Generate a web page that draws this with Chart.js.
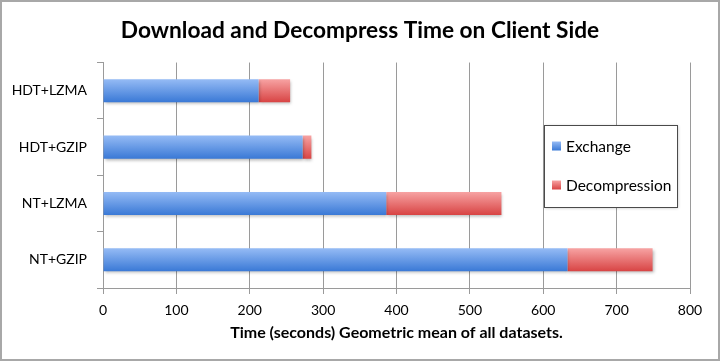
<!DOCTYPE html>
<html>
<head>
<meta charset="utf-8">
<script src="https://cdn.jsdelivr.net/npm/chart.js@4/dist/chart.umd.min.js"></script>
<style>
html,body{margin:0;padding:0;background:#fff;}
#wrap{width:720px;height:361px;position:relative;}
</style>
</head>
<body>
<div id="wrap"><canvas id="c" width="720" height="361"></canvas></div>
<script>
const categories = ['HDT+LZMA', 'HDT+GZIP', 'NT+LZMA', 'NT+GZIP'];
const exchange = [212, 272, 386, 633];
const decompression = [43, 12, 157, 116];
const xTicks = [0, 100, 200, 300, 400, 500, 600, 700, 800];
const seriesNames = ['Exchange', 'Decompression'];
const titleText = 'Download and Decompress Time on Client Side';
const xTitleText = 'Time (seconds) Geometric mean of all datasets.';

const FONT = 'Lato, "Open Sans", sans-serif';
const gradStops = [['#95bbf5', '#3a79d6'], ['#f7a3a3', '#d84444']];
const solid = ['#5b93e6', '#e36262'];

const gradientPlugin = {
  id: 'grad',
  afterLayout(chart) {
    if (chart.titleBlock) {
      chart.titleBlock.left = 0;
      chart.titleBlock.right = chart.width;
      chart.titleBlock.width = chart.width;
    }
    const ys = chart.scales.y;
    const ctx = chart.ctx;
    const half = 11.5;
    chart.data.datasets.forEach((ds, di) => {
      ds.backgroundColor = categories.map((c, i) => {
        const yc = ys.getPixelForValue(i);
        const g = ctx.createLinearGradient(0, yc - half, 0, yc + half);
        g.addColorStop(0, gradStops[di][0]);
        g.addColorStop(1, gradStops[di][1]);
        return g;
      });
    });
  },
  beforeDatasetsDraw(chart) {
    const ctx = chart.ctx;
    ctx.save();
    ctx.shadowColor = 'rgba(0,0,0,0.28)';
    ctx.shadowBlur = 3;
    ctx.shadowOffsetX = 1;
    ctx.shadowOffsetY = 2;
  },
  afterDatasetsDraw(chart) {
    chart.ctx.restore();
  }
};

const framePlugin = {
  id: 'frame',
  beforeDraw(chart) {
    const ctx = chart.ctx;
    ctx.save();
    ctx.fillStyle = '#fff';
    ctx.fillRect(0, 0, chart.width, chart.height);
    ctx.restore();
  },
  afterDraw(chart) {
    const ctx = chart.ctx;
    ctx.save();
    ctx.strokeStyle = '#a8a8a8';
    ctx.lineWidth = 2;
    ctx.strokeRect(1, 1, chart.width - 2, chart.height - 2);
    ctx.restore();
  }
};

const legendPlugin = {
  id: 'boxLegend',
  afterDraw(chart) {
    const ctx = chart.ctx;
    const x0 = 544, y0 = 125, w = 133, h = 82;
    ctx.save();
    ctx.shadowColor = 'rgba(0,0,0,0.25)';
    ctx.shadowBlur = 3;
    ctx.shadowOffsetX = 1;
    ctx.shadowOffsetY = 1;
    ctx.fillStyle = '#fff';
    ctx.fillRect(x0, y0, w, h);
    ctx.restore();
    ctx.save();
    ctx.strokeStyle = '#4a4a4a';
    ctx.lineWidth = 1;
    ctx.strokeRect(x0 + 0.5, y0 + 0.5, w, h);
    const rows = [146, 185];
    ctx.font = '15.5px ' + FONT;
    ctx.textBaseline = 'middle';
    ctx.textAlign = 'left';
    seriesNames.forEach((name, i) => {
      const yc = rows[i];
      const g = ctx.createLinearGradient(0, yc - 4.5, 0, yc + 4.5);
      g.addColorStop(0, gradStops[i][0]);
      g.addColorStop(1, gradStops[i][1]);
      ctx.fillStyle = g;
      ctx.fillRect(552, yc - 4.5, 9, 9);
      ctx.fillStyle = '#000';
      ctx.fillText(name, 566, yc + 0.5);
    });
    ctx.restore();
  }
};

new Chart(document.getElementById('c'), {
  type: 'bar',
  data: {
    labels: categories,
    datasets: [
      { label: seriesNames[0], data: exchange, backgroundColor: solid[0], borderWidth: 0,
        categoryPercentage: 1, barPercentage: 0.41 },
      { label: seriesNames[1], data: decompression, backgroundColor: solid[1], borderWidth: 0,
        categoryPercentage: 1, barPercentage: 0.41 }
    ]
  },
  options: {
    indexAxis: 'y',
    responsive: false,
    animation: false,
    devicePixelRatio: 1,
    layout: { padding: { left: 0, right: 30, top: 0, bottom: 10 } },
    plugins: {
      legend: { display: false },
      tooltip: { enabled: false },
      title: {
        display: true,
        text: titleText,
        color: '#000',
        font: { family: FONT, size: 22.7, weight: 'bold', lineHeight: 1.2 },
        padding: { top: 17, bottom: 18.3 }
      }
    },
    scales: {
      x: {
        stacked: true,
        min: 0,
        max: 800,
        afterBuildTicks(scale) { scale.ticks = xTicks.map(v => ({ value: v })); },
        afterFit(scale) { scale.height = 63; },
        grid: { color: '#9a9a9a', lineWidth: 1, drawTicks: true, tickLength: 6, tickColor: '#9a9a9a' },
        border: { display: true, color: '#9a9a9a', width: 1 },
        ticks: { color: '#000', font: { family: FONT, size: 14 }, padding: 8, maxRotation: 0 },
        title: {
          display: true,
          text: xTitleText,
          color: '#000',
          font: { family: FONT, size: 16, weight: 'bold', lineHeight: 1.2 },
          padding: { top: 8.4, bottom: 8.4 }
        }
      },
      y: {
        stacked: true,
        afterFit(scale) { scale.width = 103; },
        grid: { display: true, drawOnChartArea: false, drawTicks: true, tickLength: 6, color: '#9a9a9a', offset: true },
        border: { display: true, color: '#9a9a9a', width: 1 },
        ticks: { color: '#000', font: { family: FONT, size: 14 }, padding: 10 }
      }
    }
  },
  plugins: [gradientPlugin, framePlugin, legendPlugin]
});
</script>
</body>
</html>
